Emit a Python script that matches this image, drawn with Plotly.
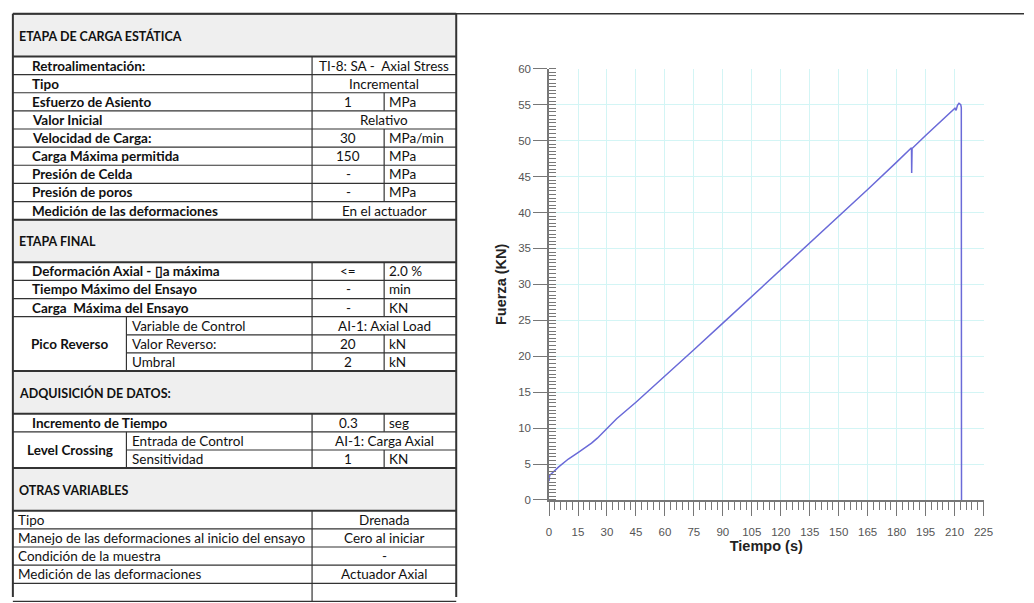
import plotly.graph_objects as go

# ---------------- chart data ----------------
tiempo_s = [0, 0.3, 5, 10, 15, 19, 22, 25, 29, 32, 35, 45, 60, 75, 90, 105, 120, 135,
            150, 165, 180, 187.4, 187.7, 187.8, 188.0, 195, 205, 210.2, 210.8, 211.5,
            212.3, 213.2, 213.5, 213.6]
fuerza_kn = [2.6, 3.4, 4.6, 5.7, 6.6, 7.3, 7.9, 8.6, 9.7, 10.5, 11.3, 13.6, 17.2, 20.9,
             24.6, 28.3, 32.0, 35.8, 39.5, 43.2, 47.0, 48.8, 49.0, 45.5, 48.9, 50.7,
             53.2, 54.5, 54.2, 54.9, 55.2, 55.0, 54.6, 0]

# ---------------- table data ----------------
sec1_title = "ETAPA DE CARGA ESTÁTICA"
sec1_rows = [
    ("Retroalimentación:", "TI-8: SA -  Axial Stress", None),
    ("Tipo", "Incremental", None),
    ("Esfuerzo de Asiento", "1", "MPa"),
    ("Valor Inicial", "Relativo", None),
    ("Velocidad de Carga:", "30", "MPa/min"),
    ("Carga Máxima permitida", "150", "MPa"),
    ("Presión de Celda", "-", "MPa"),
    ("Presión de poros", "-", "MPa"),
    ("Medición de las deformaciones", "En el actuador", None),
]
sec2_title = "ETAPA FINAL"
sec2_rows = [
    ("Deformación Axial - \u25afa máxima", "<=", "2.0 %"),
    ("Tiempo Máximo del Ensayo", "-", "min"),
    ("Carga  Máxima del Ensayo", "-", "KN"),
]
pico_label = "Pico Reverso"
pico_rows = [
    ("Variable de Control", "AI-1: Axial Load", None),
    ("Valor Reverso:", "20", "kN"),
    ("Umbral", "2", "kN"),
]
sec3_title = "ADQUISICIÓN DE DATOS:"
sec3_rows = [
    ("Incremento de Tiempo", "0.3", "seg"),
]
level_label = "Level Crossing"
level_rows = [
    ("Entrada de Control", "AI-1: Carga Axial", None),
    ("Sensitividad", "1", "KN"),
]
sec4_title = "OTRAS VARIABLES"
sec4_rows = [
    ("Tipo", "Drenada"),
    ("Manejo de las deformaciones al inicio del ensayo", "Cero al iniciar"),
    ("Condición de la muestra", "-"),
    ("Medición de las deformaciones", "Actuador Axial"),
    ("", ""),
]

# ---------------- geometry helpers ----------------
W, H = 1034, 603
def px(x):
    return x / W
def py(y):
    return 1 - y / H

L, C1, C2, R, SUB = 10, 313, 386, 459, 125
HEAD_H, ROW_H = 43.5, 18.5
FONT = "Lato"
FS = 13.5
FSB = 13.5
DARK = "#333333"

shapes = []
annots = []

def hline(x0, x1, y, w=1.2):
    shapes.append(dict(type="line", xref="paper", yref="paper", x0=px(x0), x1=px(x1),
                       y0=py(y), y1=py(y), line=dict(color=DARK, width=w)))

def vline(x, y0, y1, w=1.2):
    shapes.append(dict(type="line", xref="paper", yref="paper", x0=px(x), x1=px(x),
                       y0=py(y0), y1=py(y1), line=dict(color=DARK, width=w)))

def text(x, y, s, anchor="left", bold=False, size=None):
    if size is None:
        size = FSB if bold else FS
    annots.append(dict(xref="paper", yref="paper", x=px(x), y=py(y), text=("<b>%s</b>" % s) if bold else s,
                       showarrow=False, xanchor=anchor, yanchor="middle",
                       font=dict(family=FONT, size=size, color="#111111")))

def header(y, title):
    shapes.append(dict(type="rect", xref="paper", yref="paper", x0=px(L), x1=px(R),
                       y0=py(y + HEAD_H), y1=py(y), fillcolor="#efefef", line=dict(width=0), layer="below"))
    hline(L, R, y, 2)
    hline(L, R, y + HEAD_H, 2)
    text(14, y + HEAD_H / 2 + 1, title, bold=True, size=12.5)
    return y + HEAD_H

def value_cells(y, num, unit):
    yc = y + ROW_H / 2
    if unit is None:
        text((C1 + R) / 2, yc, num, anchor="center")
    else:
        vline(C2, y, y + ROW_H, 1.2)
        text((C1 + C2) / 2, yc, num, anchor="center")
        text(C2 + 3, yc, unit)

def simple_rows(y, rows, bold=True, indent=27):
    for lab, num, unit in rows:
        text(indent, y + ROW_H / 2, lab, bold=bold)
        value_cells(y, num, unit)
        y += ROW_H
        hline(L, R, y, 1.2)
    return y

def group_rows(y, label, rows):
    y0 = y
    for i, (lab, num, unit) in enumerate(rows):
        text(SUB + 4, y + ROW_H / 2, lab)
        value_cells(y, num, unit)
        y += ROW_H
        if i < len(rows) - 1:
            hline(SUB, R, y, 1.2)
        else:
            hline(L, R, y, 1.2)
    vline(SUB, y0, y, 1.2)
    text((L + SUB) / 2, (y0 + y) / 2, label, anchor="center", bold=True)
    return y

# top frame line and divider
hline(L, W, 8, 1.5)
vline(R, 8, H, 2)
vline(L, 8, H, 2)

y = 8
y = header(y, sec1_title)
ys = y
y = simple_rows(y, sec1_rows)
vline(C1, ys, y)
y = header(y, sec2_title)
ys = y
y = simple_rows(y, sec2_rows)
y = group_rows(y, pico_label, pico_rows)
vline(C1, ys, y)
y = header(y, sec3_title)
ys = y
y = simple_rows(y, sec3_rows)
y = group_rows(y, level_label, level_rows)
vline(C1, ys, y)
y = header(y, sec4_title)
ys = y
for lab, val in sec4_rows:
    text(13, y + ROW_H / 2, lab)
    text((C1 + R) / 2, y + ROW_H / 2, val, anchor="center")
    y += ROW_H
    hline(L, R, y, 1.2)
vline(C1, ys, y)

# ---------------- figure ----------------
fig = go.Figure()
fig.add_trace(go.Scatter(x=tiempo_s, y=fuerza_kn, mode="lines",
                         line=dict(color="#6a6ad8", width=1.5), showlegend=False,
                         hoverinfo="skip"))

AX = "#777777"
TF = "Liberation Sans"
fig.update_layout(
    width=W, height=H,
    margin=dict(l=0, r=0, t=0, b=0),
    paper_bgcolor="white", plot_bgcolor="white",
    shapes=shapes, annotations=annots,
    xaxis=dict(domain=[px(553), px(993)], range=[0, 225], tick0=0, dtick=15,
               showgrid=True, gridcolor="#d3f5f5", gridwidth=1, zeroline=False,
               showline=True, linecolor=AX, linewidth=1.5,
               ticks="outside", ticklen=14, tickcolor=AX, tickwidth=1.2,
               ticklabelstandoff=6,
               minor=dict(dtick=3, tick0=0, ticks="outside", ticklen=8, tickcolor=AX,
                          tickwidth=1, showgrid=False),
               tickfont=dict(family=TF, size=11.5, color="#555555"),
               title=dict(text="<b>Tiempo (s)</b>", font=dict(family=TF, size=14.5, color="#222222"),
                          standoff=4)),
    yaxis=dict(domain=[py(504), py(64)], range=[0, 60], tick0=0, dtick=5,
               showgrid=True, gridcolor="#d3f5f5", gridwidth=1, zeroline=False,
               showline=True, linecolor=AX, linewidth=1.5,
               ticks="outside", ticklen=14, tickcolor=AX, tickwidth=1.2,
               minor=dict(dtick=0.5, tick0=0, ticks="inside", ticklen=7, tickcolor=AX,
                          tickwidth=1, showgrid=False),
               tickfont=dict(family=TF, size=11.5, color="#555555"),
               title=dict(text="<b>Fuerza (KN)</b>", font=dict(family=TF, size=14.5, color="#222222"),
                          standoff=8)),
)
fig.write_html("out.html", config={"displayModeBar": False},
               post_script="document.body.style.margin='0';document.body.style.overflow='hidden';")
